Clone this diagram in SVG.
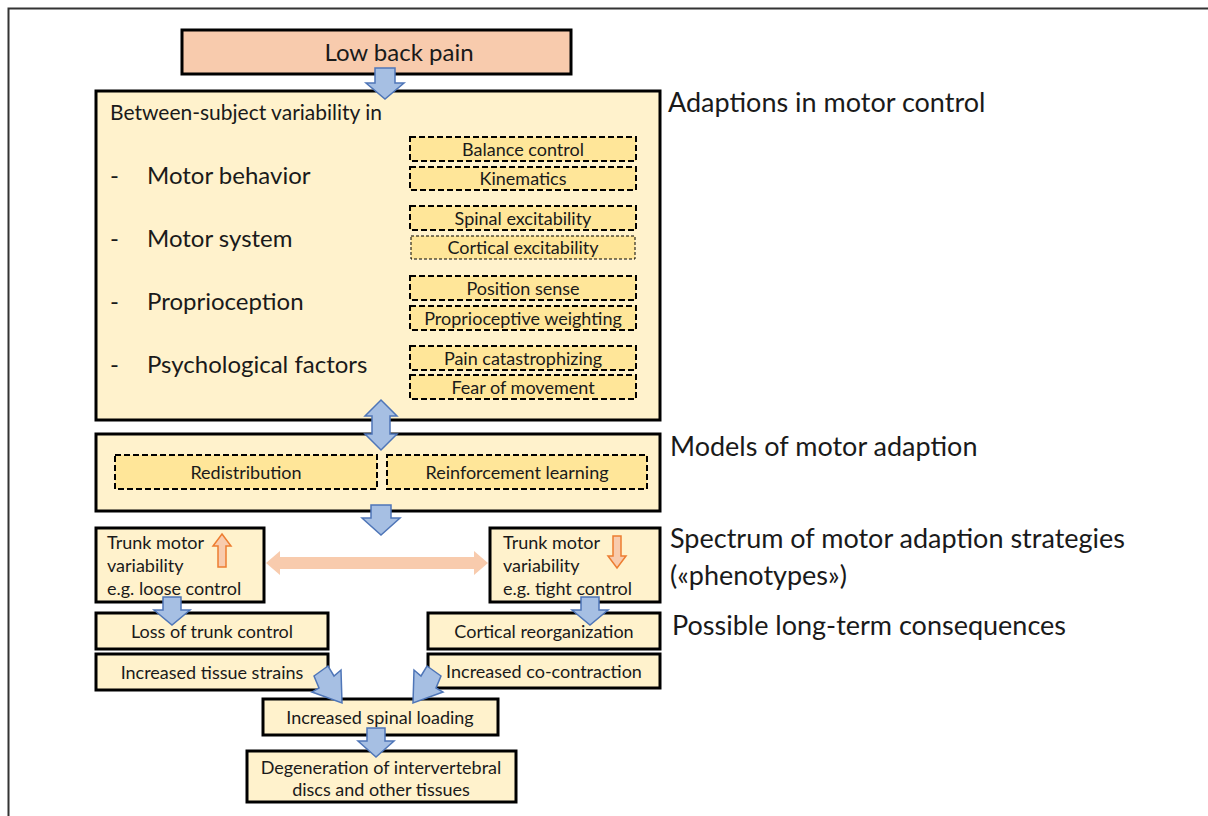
<svg xmlns="http://www.w3.org/2000/svg" width="1208" height="816" viewBox="0 0 1208 816">
<style>
text{font-family:Lato,"Liberation Sans",sans-serif;fill:#1a1a1a}
.box{fill:#FFF2CC;stroke:#000;stroke-width:3}
.dash{fill:#FFE699;stroke:#000;stroke-width:2;stroke-dasharray:6 3}
.ba{fill:#A6BFE3;stroke:#4F76B8;stroke-width:1.5}
.oa{fill:#F8CBAD;stroke:#ED7D31;stroke-width:1.5}
.t16{font-size:18px}
.t21{font-size:24px}
.t23{font-size:27px}
</style>
<rect x="8.5" y="8.5" width="1220" height="830" fill="#fff" stroke="#333" stroke-width="2"/>

<g id="n-lbp">
<rect x="182" y="30" width="389" height="44" fill="#F8CBAD" stroke="#000" stroke-width="3"/>
<text x="399" y="61" style="font-size:24px" text-anchor="middle">Low back pain</text>
</g>

<g id="n-adapt">
<rect class="box" x="96" y="91" width="564" height="329"/>
<text x="110" y="120" style="font-size:21px">Between-subject variability in</text>
<text x="110" y="184" class="t21">-</text><text x="147" y="184" class="t21">Motor behavior</text>
<text x="110" y="247" class="t21">-</text><text x="147" y="247" class="t21">Motor system</text>
<text x="110" y="310" class="t21">-</text><text x="147" y="310" class="t21">Proprioception</text>
<text x="110" y="373" class="t21">-</text><text x="147" y="373" class="t21">Psychological factors</text>
</g>
<g id="n-balance"><rect class="dash" x="410" y="137" width="226" height="24"/><text x="523" y="156" class="t16" text-anchor="middle">Balance control</text></g>
<g id="n-kin"><rect class="dash" x="410" y="167" width="226" height="23"/><text x="523" y="185" class="t16" text-anchor="middle">Kinematics</text></g>
<g id="n-spinal"><rect class="dash" x="410" y="206" width="226" height="24"/><text x="523" y="225" class="t16" text-anchor="middle">Spinal excitability</text></g>
<g id="n-cortical"><rect class="dash" x="411" y="236" width="224" height="23" style="stroke-width:1;stroke-dasharray:3 2"/><text x="523" y="254" class="t16" text-anchor="middle">Cortical excitability</text></g>
<g id="n-pos"><rect class="dash" x="410" y="276" width="226" height="24"/><text x="523" y="295" class="t16" text-anchor="middle">Position sense</text></g>
<g id="n-prop"><rect class="dash" x="410" y="306" width="226" height="24"/><text x="523" y="325" class="t16" text-anchor="middle">Proprioceptive weighting</text></g>
<g id="n-pain"><rect class="dash" x="410" y="346" width="226" height="24"/><text x="523" y="365" class="t16" text-anchor="middle">Pain catastrophizing</text></g>
<g id="n-fear"><rect class="dash" x="410" y="375" width="226" height="24"/><text x="523" y="394" class="t16" text-anchor="middle">Fear of movement</text></g>

<g id="n-models">
<rect class="box" x="96" y="434" width="564" height="77"/>
</g>
<g id="n-redis"><rect class="dash" x="115" y="455" width="262" height="34"/><text x="246" y="479" class="t16" text-anchor="middle">Redistribution</text></g>
<g id="n-reinf"><rect class="dash" x="387" y="455" width="260" height="34"/><text x="517" y="479" class="t16" text-anchor="middle">Reinforcement learning</text></g>

<g id="n-loose">
<rect class="box" x="96" y="528" width="168" height="74"/>
<text x="107" y="549" class="t16">Trunk motor</text>
<text x="107" y="572" class="t16">variability</text>
<text x="107" y="595" class="t16">e.g. loose control</text>
<polygon class="oa" points="222,534 231,546 226,546 226,567 218,567 218,546 213,546"/>
</g>
<g id="n-tight">
<rect class="box" x="490" y="528" width="170" height="74"/>
<text x="503" y="549" class="t16">Trunk motor</text>
<text x="503" y="572" class="t16">variability</text>
<text x="503" y="595" class="t16">e.g. tight control</text>
<polygon class="oa" points="617,568 626,556 621,556 621,536 613,536 613,556 608,556"/>
</g>

<g id="n-loss"><rect class="box" x="96" y="613" width="232" height="36"/><text x="212" y="638" class="t16" text-anchor="middle">Loss of trunk control</text></g>
<g id="n-cortreorg"><rect class="box" x="428" y="613" width="232" height="36"/><text x="544" y="638" class="t16" text-anchor="middle">Cortical reorganization</text></g>
<g id="n-strain"><rect class="box" x="96" y="654" width="232" height="36"/><text x="212" y="679" class="t16" text-anchor="middle">Increased tissue strains</text></g>
<g id="n-cocon"><rect class="box" x="428" y="654" width="232" height="34"/><text x="544" y="678" class="t16" text-anchor="middle">Increased co-contraction</text></g>
<g id="n-spload"><rect class="box" x="263" y="699" width="235" height="36"/><text x="380" y="724" class="t16" text-anchor="middle">Increased spinal loading</text></g>
<g id="n-degen"><rect class="box" x="247" y="751" width="269" height="51"/>
<text x="381" y="774" class="t16" text-anchor="middle">Degeneration of intervertebral</text>
<text x="381" y="796" class="t16" text-anchor="middle">discs and other tissues</text></g>

<g id="labels">
<text x="668" y="112" class="t23">Adaptions in motor control</text>
<text x="670" y="456" class="t23">Models of motor adaption</text>
<text x="670" y="548" class="t23">Spectrum of motor adaption strategies</text>
<text x="670" y="585" class="t23">(«phenotypes»)</text>
<text x="672" y="635" class="t23">Possible long-term consequences</text>
</g>

<g id="connectors">
<polygon class="ba" points="375,68 395,68 395,83 404,83 385,99 366,83 375,83"/>
<polygon class="ba" points="381,400 397,416 390,416 390,434 397,434 381,450 365,434 372,434 372,416 365,416"/>
<polygon class="ba" points="371,505 391,505 391,518 400,518 381,535 362,518 371,518"/>
<polygon class="oa" style="stroke:none" points="266,563 280,551 280,557 474,557 474,551 488,563 474,575 474,569 280,569 280,575"/>
<polygon class="ba" points="163,597 181,597 181,610 190,610 172,625 154,610 163,610"/>
<polygon class="ba" points="581,597 599,597 599,610 608,610 590,625 572,610 581,610"/>
<polygon class="ba" points="314,676 328,666 334,676 341,670 342,703 312,692 319,688"/>
<polygon class="ba" points="441,676 427,666 421,676 414,670 413,703 443,692 436,688"/>
<polygon class="ba" points="367,728 385,728 385,741 394,741 376,757 358,741 367,741"/>
</g>
</svg>
